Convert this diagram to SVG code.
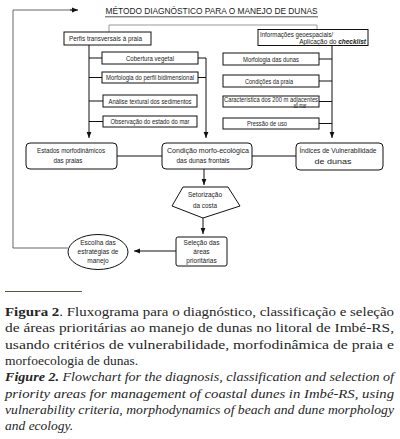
<svg xmlns="http://www.w3.org/2000/svg" width="400" height="439" viewBox="0 0 400 439">
<style>
.bx{fill:#fff;stroke:#111;stroke-width:1}
.t{font-family:"Liberation Sans",Arial,sans-serif;font-size:6.5px;fill:#222}
.c{text-anchor:middle}
.ln{stroke:#111;stroke-width:1;fill:none}
.gr{stroke:#999;stroke-width:1;fill:none}
.fb{stroke:#666;stroke-width:1;fill:none}
.cap{font-family:"Liberation Serif","Times New Roman",serif;font-size:13.5px;fill:#262626}
</style>
<defs>
<marker id="ah" viewBox="0 0 10 10" refX="10" refY="5" markerWidth="6" markerHeight="6" markerUnits="userSpaceOnUse" orient="auto">
<path d="M0,1 L10,5 L0,9 z" fill="#111"/>
</marker>
</defs>
<rect width="400" height="439" fill="#fff"/>

<g id="title">
<text class="t c" x="211.5" y="14" style="font-size:8.5px" textLength="212" lengthAdjust="spacingAndGlyphs">MÉTODO DIAGNÓSTICO PARA O MANEJO DE DUNAS</text>
<line x1="105" y1="16.8" x2="318" y2="16.8" stroke="#222" stroke-width="0.8"/>
</g>

<g id="connectors">
<polyline class="gr" points="109,32 109,25 317,25 317,30"/>
<polyline class="fb" points="68,248 13,248 13,10 72,10"/>
<line class="ln" x1="70" y1="10" x2="78" y2="10" marker-end="url(#ah)"/>
<line class="ln" x1="89" y1="45" x2="89" y2="138" marker-end="url(#ah)"/>
<line class="ln" x1="89" y1="58" x2="102" y2="58"/>
<line class="ln" x1="89" y1="77.5" x2="102" y2="77.5"/>
<line class="ln" x1="89" y1="101" x2="103" y2="101"/>
<line class="ln" x1="89" y1="121.5" x2="103" y2="121.5"/>
<line class="ln" x1="198" y1="58" x2="206" y2="58"/>
<line class="ln" x1="198" y1="77.5" x2="206" y2="77.5"/>
<line class="ln" x1="206" y1="58" x2="206" y2="138" marker-end="url(#ah)"/>
<line class="ln" x1="332" y1="46" x2="332" y2="138" marker-end="url(#ah)"/>
<line class="ln" x1="319" y1="59" x2="332" y2="59"/>
<line class="ln" x1="319" y1="81" x2="332" y2="81"/>
<line class="ln" x1="319" y1="101.5" x2="332" y2="101.5"/>
<line class="ln" x1="319" y1="123.5" x2="332" y2="123.5"/>
<line class="ln" x1="117" y1="156" x2="162" y2="156"/>
<line class="ln" x1="252" y1="156" x2="296" y2="156"/>
<line class="ln" x1="204" y1="169" x2="204" y2="185" marker-end="url(#ah)"/>
<line class="ln" x1="203" y1="218" x2="203" y2="234" marker-end="url(#ah)"/>
<line class="ln" x1="176" y1="251" x2="134" y2="251" marker-end="url(#ah)"/>
</g>

<g id="perfis">
<rect class="bx" x="64" y="32" width="87" height="13"/>
<text class="t" x="69" y="41" textLength="73" lengthAdjust="spacingAndGlyphs">Perfis transversais à praia</text>
</g>
<g id="cobertura">
<rect class="bx" x="102" y="52" width="96" height="12"/>
<text class="t c" x="150" y="60.5" textLength="48" lengthAdjust="spacingAndGlyphs">Cobertura vegetal</text>
</g>
<g id="morfologia-perfil">
<rect class="bx" x="102" y="72" width="96" height="11"/>
<text class="t c" x="150" y="80" textLength="88" lengthAdjust="spacingAndGlyphs">Morfologia do perfil bidimensional</text>
</g>
<g id="analise">
<rect class="bx" x="103" y="95" width="94" height="12"/>
<text class="t c" x="150" y="103.5" textLength="83" lengthAdjust="spacingAndGlyphs">Análise textural dos sedimentos</text>
</g>
<g id="observacao">
<rect class="bx" x="103" y="116" width="94" height="11"/>
<text class="t c" x="150" y="124" textLength="79" lengthAdjust="spacingAndGlyphs">Observação do estado do mar</text>
</g>

<g id="informacoes">
<rect class="bx" x="258" y="29.5" width="110" height="16"/>
<text class="t" x="260" y="36.5" textLength="73" lengthAdjust="spacingAndGlyphs">Informações geoespaciais/</text>
<text class="t" x="366" y="44" text-anchor="end">Aplicação do <tspan font-weight="bold" font-style="italic">checklist</tspan></text>
</g>
<g id="morfologia-dunas">
<rect class="bx" x="223" y="53" width="96" height="12"/>
<text class="t c" x="271" y="61.5" textLength="56" lengthAdjust="spacingAndGlyphs">Morfologia das dunas</text>
</g>
<g id="condicoes">
<rect class="bx" x="223" y="75" width="96" height="12"/>
<text class="t c" x="269" y="83.5" textLength="48" lengthAdjust="spacingAndGlyphs">Condições da praia</text>
</g>
<g id="caracteristica">
<rect class="bx" x="223" y="96" width="96" height="11"/>
<text class="t c" x="271" y="102" textLength="94" lengthAdjust="spacingAndGlyphs">Característica dos 200 m adjacentes</text>
<text class="t c" x="300" y="108" textLength="13" lengthAdjust="spacingAndGlyphs">ao mar</text>
</g>
<g id="pressao">
<rect class="bx" x="223" y="118" width="96" height="11"/>
<text class="t c" x="267" y="126" textLength="40" lengthAdjust="spacingAndGlyphs">Pressão de uso</text>
</g>

<g id="estados">
<rect class="bx" x="26" y="143" width="91" height="26" rx="4"/>
<text class="t c" x="71" y="153" textLength="68" lengthAdjust="spacingAndGlyphs">Estados morfodinâmicos</text>
<text class="t c" x="68" y="163" textLength="29" lengthAdjust="spacingAndGlyphs">das praias</text>
</g>
<g id="condicao">
<rect class="bx" x="162" y="143" width="90" height="26" rx="4"/>
<text class="t c" x="208" y="153" textLength="82" lengthAdjust="spacingAndGlyphs">Condição morfo-ecológica</text>
<text class="t c" x="203" y="163" textLength="53" lengthAdjust="spacingAndGlyphs">das dunas frontais</text>
</g>
<g id="indices">
<rect class="bx" x="296" y="143" width="87" height="27" rx="4"/>
<text class="t c" x="338" y="153" textLength="77" lengthAdjust="spacingAndGlyphs">Índices de Vulnerabilidade</text>
<text class="t c" x="333" y="163.5" textLength="37" lengthAdjust="spacingAndGlyphs">de dunas</text>
</g>
<g id="setorizacao">
<polygon class="bx" points="183,187 228,187 240,206 203,218 172,206"/>
<text class="t c" x="205" y="197" textLength="34" lengthAdjust="spacingAndGlyphs">Setorização</text>
<text class="t c" x="205" y="208" textLength="24" lengthAdjust="spacingAndGlyphs">da costa</text>
</g>
<g id="selecao">
<rect class="bx" x="176" y="237" width="51" height="29" rx="2"/>
<text class="t c" x="201.5" y="244.5">Seleção das</text>
<text class="t c" x="201.5" y="253.5">áreas</text>
<text class="t c" x="201.5" y="262.5">prioritárias</text>
</g>
<g id="escolha">
<ellipse class="bx" cx="98" cy="252" rx="30" ry="17.5"/>
<text class="t c" x="98" y="244.5">Escolha das</text>
<text class="t c" x="98" y="253.5">estratégias de</text>
<text class="t c" x="98" y="263">manejo</text>
</g>

<g id="caption">
<line x1="5" y1="291.5" x2="82" y2="291.5" stroke="#4a5a3a" stroke-width="1"/>
<text class="cap" x="5" y="316" textLength="389" lengthAdjust="spacingAndGlyphs"><tspan font-weight="bold">Figura 2</tspan>. Fluxograma para o diagnóstico, classificação e seleção</text>
<text class="cap" x="5" y="332.3" textLength="389" lengthAdjust="spacingAndGlyphs">de áreas prioritárias ao manejo de dunas no litoral de Imbé-RS,</text>
<text class="cap" x="5" y="348.6" textLength="389" lengthAdjust="spacingAndGlyphs">usando critérios de vulnerabilidade, morfodinâmica de praia e</text>
<text class="cap" x="5" y="364.9">morfoecologia de dunas.</text>
<text class="cap" x="5" y="381.2" font-style="italic" textLength="389" lengthAdjust="spacingAndGlyphs"><tspan font-weight="bold">Figure 2.</tspan> Flowchart for the diagnosis, classification and selection of</text>
<text class="cap" x="5" y="397.5" font-style="italic" textLength="389" lengthAdjust="spacingAndGlyphs">priority areas for management of coastal dunes in Imbé-RS, using</text>
<text class="cap" x="5" y="413.8" font-style="italic" textLength="389" lengthAdjust="spacingAndGlyphs">vulnerability criteria, morphodynamics of beach and dune morphology</text>
<text class="cap" x="5" y="430" font-style="italic">and ecology.</text>
</g>
</svg>
